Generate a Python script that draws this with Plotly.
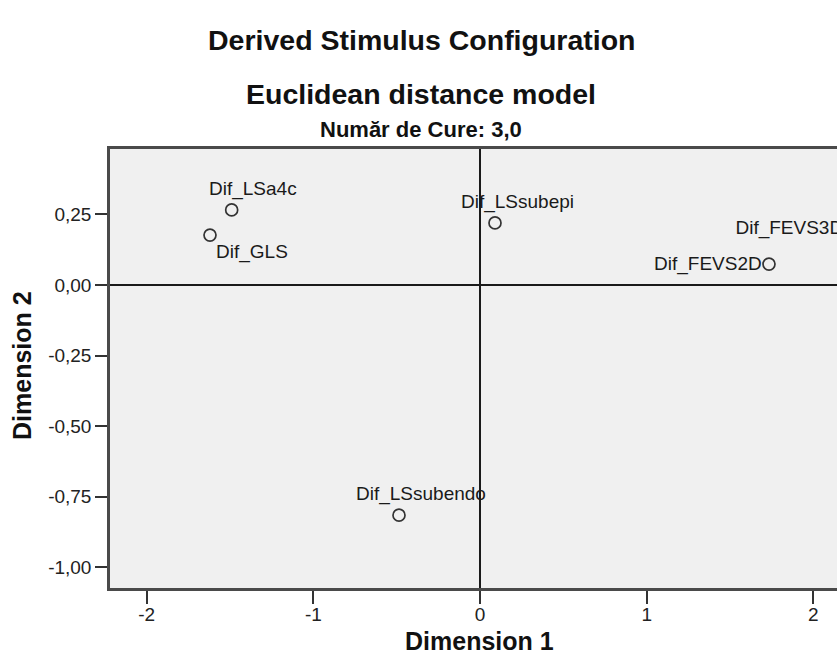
import plotly.graph_objects as go

# ---- data ----
stimuli = ["Dif_LSa4c", "Dif_GLS", "Dif_LSsubepi", "Dif_FEVS2D", "Dif_FEVS3D", "Dif_LSsubendo"]
dim1 = [-1.49, -1.62, 0.09, 1.734, 2.23, -0.486]
dim2 = [0.266, 0.177, 0.220, 0.074, 0.199, -0.816]

x_tickvals = [-2, -1, 0, 1, 2]
x_ticktext = ["-2", "-1", "0", "1", "2"]
y_tickvals = [0.25, 0.0, -0.25, -0.5, -0.75, -1.0]
y_ticktext = ["0,25", "0,00", "-0,25", "-0,50", "-0,75", "-1,00"]

title1 = "Derived Stimulus Configuration"
title2 = "Euclidean distance model"
subtitle = "Număr de Cure: 3,0"
x_title = "Dimension 1"
y_title = "Dimension 2"

# ---- style (label placement relative to marker, in pixels) ----
label_style = {
    "Dif_LSa4c":     dict(xanchor="left", xshift=-25, yshift=21),
    "Dif_GLS":       dict(xanchor="left", xshift=4, yshift=-17),
    "Dif_LSsubepi":  dict(xanchor="left", xshift=-36, yshift=21),
    "Dif_FEVS2D":    dict(xanchor="right", xshift=-5, yshift=0),
    "Dif_FEVS3D":    dict(xanchor="right", xshift=-5, yshift=0),
    "Dif_LSsubendo": dict(xanchor="left", xshift=-45, yshift=21),
}

FONT = "Liberation Sans, Arial, sans-serif"
W, H = 837, 666
ML, MR, MT, MB = 110, 0, 149, 78
xrange_ = [-2.22, 2.142]
yrange_ = [-1.074, 0.482]
MARKER = dict(symbol="circle-open", size=12, color="#333333", line=dict(width=1.7))


def py(pix):
    """figure pixel row -> paper y coordinate"""
    return (H - MB - pix) / (H - MT - MB)


def px(pix):
    """figure pixel column -> paper x coordinate"""
    return (pix - ML) / (W - ML - MR)


# split points: in-range ones get annotation labels; off-range ones get clipped text
in_x, in_y, in_t = [], [], []
off_x, off_y, off_t = [], [], []
for name, x, y in zip(stimuli, dim1, dim2):
    if xrange_[0] <= x <= xrange_[1] and yrange_[0] <= y <= yrange_[1]:
        in_x.append(x); in_y.append(y); in_t.append(name)
    else:
        off_x.append(x); off_y.append(y); off_t.append(name)

fig = go.Figure()
fig.add_trace(go.Scatter(
    x=in_x, y=in_y, mode="markers", marker=MARKER,
    hoverinfo="text", text=in_t, showlegend=False, cliponaxis=True,
))
fig.add_trace(go.Scatter(
    x=off_x, y=off_y, mode="markers+text", text=off_t, textposition="middle left",
    marker=MARKER,
    textfont=dict(family=FONT, size=19, color="#1a1a1a"),
    showlegend=False, hoverinfo="skip", cliponaxis=True,
))

annotations = []
for name, x, y in zip(in_t, in_x, in_y):
    st = label_style[name]
    annotations.append(dict(
        x=x, y=y, xref="x", yref="y", text=name, showarrow=False,
        xanchor=st["xanchor"], yanchor="middle",
        xshift=st["xshift"], yshift=st["yshift"],
        font=dict(family=FONT, size=19, color="#1a1a1a"),
    ))

# titles
annotations += [
    dict(text=f"<b>{title1}</b>", x=px(422), y=py(40), xref="paper", yref="paper",
         xanchor="center", yanchor="middle", showarrow=False,
         font=dict(family=FONT, size=28.5, color="#111111")),
    dict(text=f"<b>{title2}</b>", x=px(421), y=py(94), xref="paper", yref="paper",
         xanchor="center", yanchor="middle", showarrow=False,
         font=dict(family=FONT, size=28.5, color="#111111")),
    dict(text=f"<b>{subtitle}</b>", x=px(421), y=py(130), xref="paper", yref="paper",
         xanchor="center", yanchor="middle", showarrow=False,
         font=dict(family=FONT, size=22, color="#111111")),
    dict(text=f"<b>{x_title}</b>", x=px(479), y=py(641), xref="paper", yref="paper",
         xanchor="center", yanchor="middle", showarrow=False,
         font=dict(family=FONT, size=25, color="#111111")),
    dict(text=f"<b>{y_title}</b>", x=px(22), y=py(366), xref="paper", yref="paper",
         xanchor="center", yanchor="middle", showarrow=False, textangle=-90,
         font=dict(family=FONT, size=25, color="#111111")),
]

fig.update_layout(
    width=W, height=H,
    margin=dict(l=ML, r=MR, t=MT, b=MB, autoexpand=False),
    paper_bgcolor="white",
    plot_bgcolor="#f0f0f0",
    annotations=annotations,
    font=dict(family=FONT, color="#222222"),
)

fig.update_xaxes(
    range=xrange_, tickvals=x_tickvals, ticktext=x_ticktext,
    showgrid=False, zeroline=True, zerolinecolor="#1a1a1a", zerolinewidth=2,
    showline=True, linecolor="#4a4a4a", linewidth=2.5, mirror=True,
    ticks="outside", ticklen=13, tickwidth=1.5, tickcolor="#333333",
    ticklabelstandoff=-6,
    tickfont=dict(family=FONT, size=19, color="#222222"),
)
fig.update_yaxes(
    range=yrange_, tickvals=y_tickvals, ticktext=y_ticktext,
    showgrid=False, zeroline=True, zerolinecolor="#1a1a1a", zerolinewidth=2,
    showline=True, linecolor="#4a4a4a", linewidth=2.5, mirror=False,
    ticks="outside", ticklen=12, tickwidth=1.5, tickcolor="#333333",
    tickfont=dict(family=FONT, size=19, color="#222222"),
)

fig.write_html("out.html")
